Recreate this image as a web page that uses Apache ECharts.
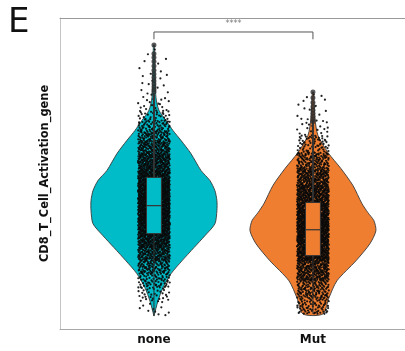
<!DOCTYPE html>
<html>
<head>
<meta charset="utf-8">
<script src="https://cdn.jsdelivr.net/npm/echarts@6/dist/echarts.min.js"></script>
<style>
  html, body { margin: 0; padding: 0; background: #ffffff; }
  #chart { width: 405px; height: 351px; }
</style>
</head>
<body>
<div id="chart"></div>
<script>
// ---- data ----
const categories = ['none', 'Mut'];
const groupColors = ['#00bcc8', '#ef7e31'];

// Kernel density outlines: [score, relative density]
const densityNone = [
  [0.696, 0.5], [0.599, 1], [0.494, 2], [0.444, 5], [0.405, 12], [0.366, 19],
  [0.328, 27], [0.277, 37], [0.212, 47], [0.173, 56], [0.134, 61], [0.095, 63],
  [0.057, 63], [0.006, 61], [-0.040, 51], [-0.086, 40], [-0.137, 28],
  [-0.187, 17], [-0.241, 9], [-0.292, 4], [-0.350, 0]
];
const densityMut = [
  [0.514, 0.5], [0.413, 2], [0.347, 5], [0.281, 15], [0.219, 28], [0.154, 40],
  [0.084, 49], [0.049, 55], [0.018, 61], [-0.021, 63], [-0.071, 57],
  [-0.137, 43], [-0.214, 24], [-0.280, 16], [-0.342, 10]
];

// Box statistics: [whisker low, Q1, median, Q3, whisker high]
const boxNone = [-0.350, -0.032, 0.076, 0.185, 0.510];
const boxMut = [-0.342, -0.117, -0.017, 0.088, 0.396];

// Outliers above the upper whisker
const outliersNone = [0.696, 0.662, 0.648, 0.632, 0.615, 0.598, 0.584, 0.570, 0.558, 0.546, 0.535, 0.524, 0.515];
const outliersMut = [0.514, 0.492, 0.474, 0.458, 0.444, 0.432, 0.421, 0.410, 0.401];

// Cells per group in the strip plot
const cellCounts = [2600, 2400];

// Significance annotation
const sigLabel = '****';
const yAxisTitle = 'CD8_T_Cell_Activation_gene';
const panelLetter = 'E';

// ---- layout constants ----
const VIOLIN_HALF = 0.396;   // x-units for the widest violin half
const JITTER_HALF = 0.10;    // x-units for strip jitter
const BOX_HALF = 0.047;      // x-units for half the box width
const densities = [densityNone, densityMut];
const boxes = [boxNone, boxMut];
const outliers = [outliersNone, outliersMut];
const maxDensity = Math.max(...densities.flat().map(p => p[1]));

// Quantile of a piecewise-linear density profile
function quantileFn(profile) {
  const pts = profile.slice().sort((a, b) => a[0] - b[0]);
  const cum = [0];
  for (let i = 1; i < pts.length; i++) {
    const w = pts[i][0] - pts[i - 1][0];
    cum.push(cum[i - 1] + w * (pts[i][1] + pts[i - 1][1]) / 2);
  }
  const total = cum[cum.length - 1];
  return function (u) {
    const t = u * total;
    for (let i = 1; i < pts.length; i++) {
      if (t <= cum[i]) {
        const f = (t - cum[i - 1]) / (cum[i] - cum[i - 1] || 1);
        return pts[i - 1][0] + f * (pts[i][0] - pts[i - 1][0]);
      }
    }
    return pts[pts.length - 1][0];
  };
}

// Radical inverse (Halton sequence) in a given base
function halton(i, base) {
  let f = 1, r = 0;
  while (i > 0) { f /= base; r += f * (i % base); i = Math.floor(i / base); }
  return r;
}

// Strip plot cells: scores at spread-out quantiles, spread sideways
function stripCells(g) {
  const q = quantileFn(densities[g]);
  const n = cellCounts[g];
  const out = [];
  for (let i = 1; i <= n; i++) {
    const k = i + g * 977;
    const u = halton(k, 2);
    const s = halton(k, 3);
    out.push([g + (s * 2 - 1) * JITTER_HALF, q(u)]);
  }
  return out;
}

const chart = echarts.init(document.getElementById('chart'), null, { renderer: 'canvas' });

const X_MIN = -0.591, X_MAX = 1.579, Y_MIN = -0.4, Y_MAX = 0.8;

function renderViolin(params, api) {
  const g = params.dataIndex;
  const prof = densities[g];
  const pts = [];
  prof.forEach(p => pts.push(api.coord([g + p[1] / maxDensity * VIOLIN_HALF, p[0]])));
  for (let i = prof.length - 1; i >= 0; i--) {
    const p = prof[i];
    pts.push(api.coord([g - p[1] / maxDensity * VIOLIN_HALF, p[0]]));
  }
  return {
    type: 'polygon',
    shape: { points: pts, smooth: 0.25 },
    style: { fill: groupColors[g], stroke: '#3a3a3a', lineWidth: 0.9 }
  };
}

function renderBox(params, api) {
  const g = params.dataIndex;
  const b = boxes[g];
  const tl = api.coord([g - BOX_HALF, b[3]]);
  const br = api.coord([g + BOX_HALF, b[1]]);
  const ml = api.coord([g - BOX_HALF, b[2]]);
  const mr = api.coord([g + BOX_HALF, b[2]]);
  const lo = api.coord([g, b[0]]);
  const q1 = api.coord([g, b[1]]);
  const q3 = api.coord([g, b[3]]);
  const hi = api.coord([g, b[4]]);
  const stroke = '#333333';
  return {
    type: 'group',
    children: [
      { type: 'line', shape: { x1: lo[0], y1: lo[1], x2: q1[0], y2: q1[1] }, style: { stroke: stroke, lineWidth: 1 } },
      { type: 'line', shape: { x1: q3[0], y1: q3[1], x2: hi[0], y2: hi[1] }, style: { stroke: stroke, lineWidth: 2 } },
      { type: 'rect', shape: { x: tl[0], y: tl[1], width: br[0] - tl[0], height: br[1] - tl[1] },
        style: { fill: groupColors[g], stroke: stroke, lineWidth: 1 } },
      { type: 'line', shape: { x1: ml[0], y1: ml[1], x2: mr[0], y2: mr[1] }, style: { stroke: stroke, lineWidth: 1.2 } }
    ]
  };
}

const bracketY = 0.746, bracketFoot = 0.718;

const option = {
  animation: false,
  backgroundColor: '#ffffff',
  graphic: [{
    type: 'text', left: 8, top: 6,
    style: { text: panelLetter, fontSize: 34, fontFamily: 'DejaVu Sans', fill: '#111111' }
  }],
  grid: { left: 60, right: 0, top: 18, bottom: 22 },
  xAxis: [{
    type: 'value', min: X_MIN, max: X_MAX, position: 'bottom',
    axisLine: { show: true, onZero: false, lineStyle: { color: '#a8a8a8', width: 1 } },
    axisTick: { show: false },
    splitLine: { show: false },
    axisLabel: {
      customValues: [0, 1],
      formatter: v => categories[Math.round(v)],
      fontFamily: 'DejaVu Sans', fontWeight: 'bold', fontSize: 12, color: '#111111', margin: 5
    }
  }, {
    type: 'value', min: X_MIN, max: X_MAX, position: 'top',
    axisLine: { show: true, onZero: false, lineStyle: { color: '#9a9a9a', width: 1 } },
    axisTick: { show: false }, axisLabel: { show: false }, splitLine: { show: false }
  }],
  yAxis: {
    type: 'value', min: Y_MIN, max: Y_MAX,
    name: yAxisTitle, nameLocation: 'middle', nameGap: 9,
    nameTextStyle: { fontFamily: 'DejaVu Sans', fontWeight: 'bold', fontSize: 11.4, color: '#111111' },
    axisLine: { show: true, onZero: false, lineStyle: { color: '#c4c4c4', width: 1 } },
    axisTick: { show: false }, axisLabel: { show: false }, splitLine: { show: false }
  },
  series: [
    {
      type: 'custom', name: 'violin', renderItem: renderViolin,
      data: [[0, 0], [1, 0]], encode: { x: 0, y: 1 }, z: 1, silent: true
    },
    {
      type: 'scatter', name: categories[0], data: stripCells(0), symbolSize: 2.2,
      itemStyle: { color: '#0a0a0a', opacity: 0.9 }, z: 2, silent: true, large: false
    },
    {
      type: 'scatter', name: categories[1], data: stripCells(1), symbolSize: 2.2,
      itemStyle: { color: '#0a0a0a', opacity: 0.9 }, z: 2, silent: true, large: false
    },
    {
      type: 'custom', name: 'box', renderItem: renderBox,
      data: [[0, 0], [1, 0]], encode: { x: 0, y: 1 }, z: 3, silent: true
    },
    {
      type: 'scatter', name: 'outliers',
      data: outliers.flatMap((arr, g) => arr.map(v => [g, v])),
      symbolSize: 5, itemStyle: { color: '#2e2e2e' }, z: 4, silent: true
    },
    {
      type: 'line', name: 'bracket',
      data: [[0, bracketFoot], [0, bracketY], [1, bracketY], [1, bracketFoot]],
      showSymbol: false, symbol: 'none',
      lineStyle: { color: '#555555', width: 1 }, z: 5, silent: true
    },
    {
      type: 'scatter', name: 'significance',
      data: [[0.5, 0.777]], symbolSize: 0,
      label: { show: true, position: 'inside', formatter: sigLabel, fontSize: 8, color: '#555555', fontFamily: 'DejaVu Sans' },
      z: 5, silent: true
    }
  ]
};

chart.setOption(option);
</script>
</body>
</html>
